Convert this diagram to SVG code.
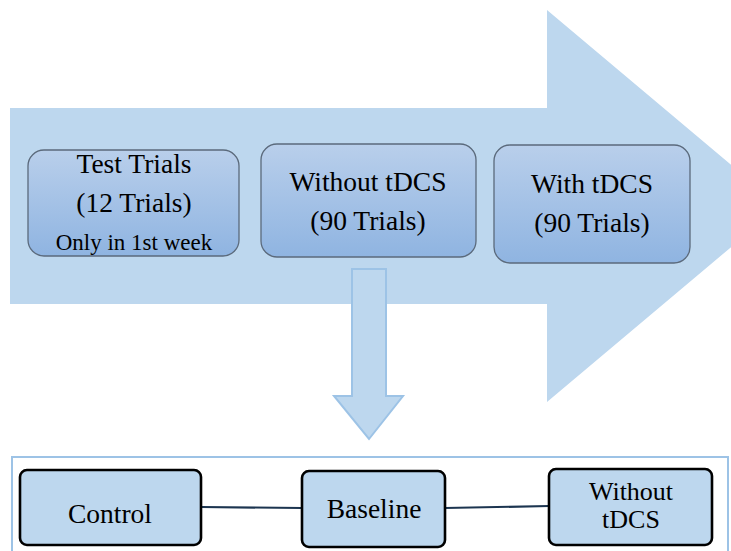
<svg xmlns="http://www.w3.org/2000/svg" width="731" height="551" viewBox="0 0 731 551">
  <defs>
    <linearGradient id="stepFill" x1="0" y1="0" x2="0" y2="1">
      <stop offset="0" stop-color="#b9cfeb"/>
      <stop offset="1" stop-color="#8fb4e1"/>
    </linearGradient>
    <style>
      .t { font-size: 27.5px; }
      .s { font-size: 23px; }
      .n { font-size: 26px; }
      .step { fill: url(#stepFill); stroke: #5b6a7c; stroke-width: 1.3; }
      .cond { fill: #bdd7ee; stroke: #000; stroke-width: 2.6; }
      .link { stroke: #1c3550; stroke-width: 2.2; fill: none; }
    </style>
  </defs>

  <rect width="731" height="551" fill="#fff"/>

  <!-- large process arrow -->
  <polygon id="process-arrow" points="10,108 547,108 547,10 780,206 547,402 547,304 10,304" fill="#bdd7ee"/>

  <g font-family="'Liberation Serif', 'Times New Roman', Times, serif" text-anchor="middle" fill="#000">
    <!-- session steps -->
    <g id="test-trials">
      <rect class="step" x="28" y="150" width="211" height="106" rx="16"/>
      <text class="t" x="134" y="173">Test Trials</text>
      <text class="t" x="134" y="212">(12 Trials)</text>
      <text class="s" x="134" y="250">Only in 1st week</text>
    </g>
    <g id="without-tdcs">
      <rect class="step" x="261" y="144" width="215" height="113" rx="16"/>
      <text class="t" x="368" y="191">Without tDCS</text>
      <text class="t" x="368" y="230">(90 Trials)</text>
    </g>
    <g id="with-tdcs">
      <rect class="step" x="494" y="145" width="196" height="118" rx="16"/>
      <text class="t" x="592" y="193">With tDCS</text>
      <text class="t" x="592" y="232">(90 Trials)</text>
    </g>

    <!-- downward arrow -->
    <polygon id="down-arrow" points="352,269 386,269 386,396 403,396 369,439 334,396 352,396" fill="#bdd7ee" stroke="#9dc3e6" stroke-width="2"/>

    <!-- condition panel -->
    <rect id="panel" x="12" y="457" width="716" height="110" fill="#fff" stroke="#9dc3e6" stroke-width="2"/>

    <g id="connectors">
      <path class="link" d="M201,507 L302,508"/>
      <path class="link" d="M445,508 L549,506"/>
    </g>

    <g id="control">
      <rect class="cond" x="20" y="470" width="181" height="75" rx="7"/>
      <text class="t" x="110" y="523">Control</text>
    </g>
    <g id="baseline">
      <rect class="cond" x="302" y="471" width="143" height="76" rx="7"/>
      <text class="t" x="374" y="518">Baseline</text>
    </g>
    <g id="without-tdcs-cond">
      <rect class="cond" x="549" y="469" width="163" height="76" rx="7"/>
      <text class="n" x="631" y="500">Without</text>
      <text class="n" x="631" y="528">tDCS</text>
    </g>
  </g>
</svg>
